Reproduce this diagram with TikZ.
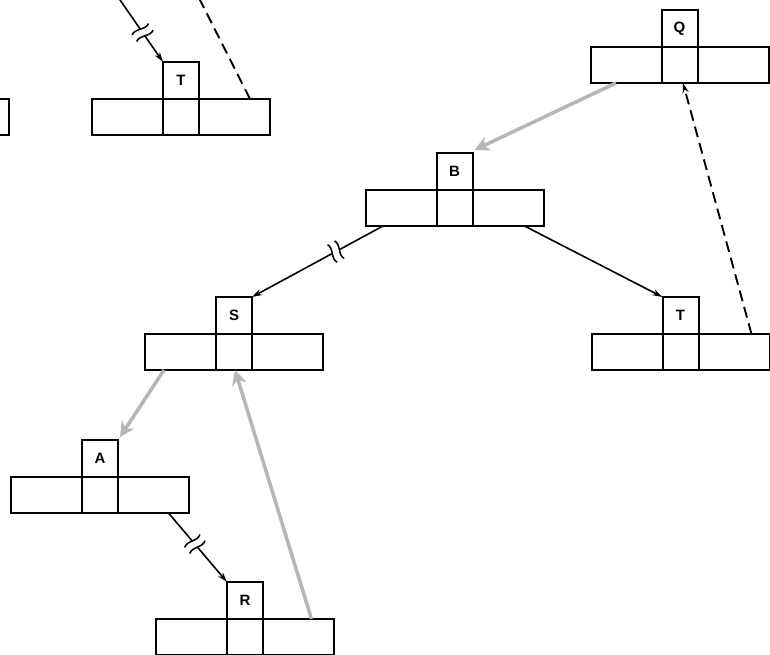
\documentclass[tikz,border=0pt]{standalone}
\usepackage{fontspec}
\setmainfont{Liberation Sans}
\usetikzlibrary{arrows.meta,calc,positioning}
\definecolor{shade}{RGB}{182,182,182}
\newcommand\recnode[4]{% name, center x, row top y, label
  \node[topbox] (#1) at (#2,#3-18.5) {#4};
  \node[midcell, below=0pt of #1] (#1m) {};
  \node[sidecell, left=0pt of #1m] (#1l) {};
  \node[sidecell, right=0pt of #1m] (#1r) {};
}
\newcommand\brkmark[3]{%
  \path let \p1=($(#2)-(#1)$), \n1={atan2(\y1,\x1)} in \pgfextra{\xdef\bkang{\n1}};
  \begin{scope}[shift={($(#1)!#3!(#2)$)}, rotate=\bkang]
    \fill[white] (-4,-5) rectangle (4,5);
    \draw[line width=1.5pt] (-4,-10) .. controls (0,-4) and (-8,4) .. (-4,10);
    \draw[line width=1.5pt] (4,-10) .. controls (8,-4) and (0,4) .. (4,10);
  \end{scope}}
\begin{document}
\begin{tikzpicture}[x=1pt,y=-1pt,
  box/.style={draw, line width=2pt, inner sep=0pt, outer sep=0pt},
  topbox/.style={box, minimum width=36pt, minimum height=37pt, font=\bfseries\fontsize{15}{15}\selectfont},
  midcell/.style={box, minimum width=36pt, minimum height=36pt},
  sidecell/.style={box, minimum width=71pt, minimum height=36pt},
  link/.style={line width=1.6pt, -{Stealth[length=10pt,width=6pt]}},
  dashlink/.style={line width=1.9pt, dash pattern=on 11pt off 6pt},
  grayarrow/.style={draw=shade, line width=3.5pt, -{Stealth[length=15pt,width=15pt,fill=shade]}}
]
\useasboundingbox (0,0) rectangle (770,654);
\fill[white] (0,0) rectangle (770,654);

% partial box at left edge
\node[sidecell] (X) at (-26.5,117) {};

\recnode{T1}{181}{99}{T}
\recnode{Q}{679.5}{47}{Q}
\recnode{B}{454.5}{190}{B}
\recnode{S}{234}{334}{S}
\recnode{T2}{680.5}{334}{T}
\recnode{A}{100}{477}{A}
\recnode{R}{245}{619}{R}

% free ends at top edge
\coordinate (in1) at (116.6,-5);
\coordinate (out1) at (197.5,-5);

% connector start points
\coordinate (t1d) at ([xshift=15.5pt]T1r.north);
\coordinate (qs) at ([xshift=-10pt]Ql.south);
\coordinate (bls) at ([xshift=-18pt]Bl.south);
\coordinate (brs) at ([xshift=16.5pt]Br.south);
\coordinate (t2d) at ([xshift=17.5pt]T2r.north);
\coordinate (qin) at ([xshift=3.5pt]Qm.south);
\coordinate (sls) at ([xshift=-16.5pt]Sl.south);
\coordinate (ars) at ([xshift=15pt]Ar.south);
\coordinate (rrn) at ([xshift=13pt]Rr.north);
\coordinate (sin) at ([xshift=1pt]Sm.south);

% black arrows
\draw[link] (in1) -- (T1.north west);
\brkmark{in1}{T1.north west}{0.56}
\draw[link] (bls) -- (S.north east);
\brkmark{bls}{S.north east}{0.36}
\draw[link] (brs) -- (T2.north west);
\draw[link] (ars) -- (R.north west);
\brkmark{ars}{R.north west}{0.45}

% dashed lines
\draw[dashlink] (t1d) -- (out1);
\draw[dashlink, -{Stealth[length=10pt,width=6pt]}] (t2d) -- (qin);

% gray arrows
\draw[grayarrow] (qs) -- ([shift={(2pt,3pt)}]B.north east);
\draw[grayarrow] (sls) -- ([shift={(2pt,3pt)}]A.north east);
\draw[grayarrow] (rrn) -- (sin);
\end{tikzpicture}
\end{document}
